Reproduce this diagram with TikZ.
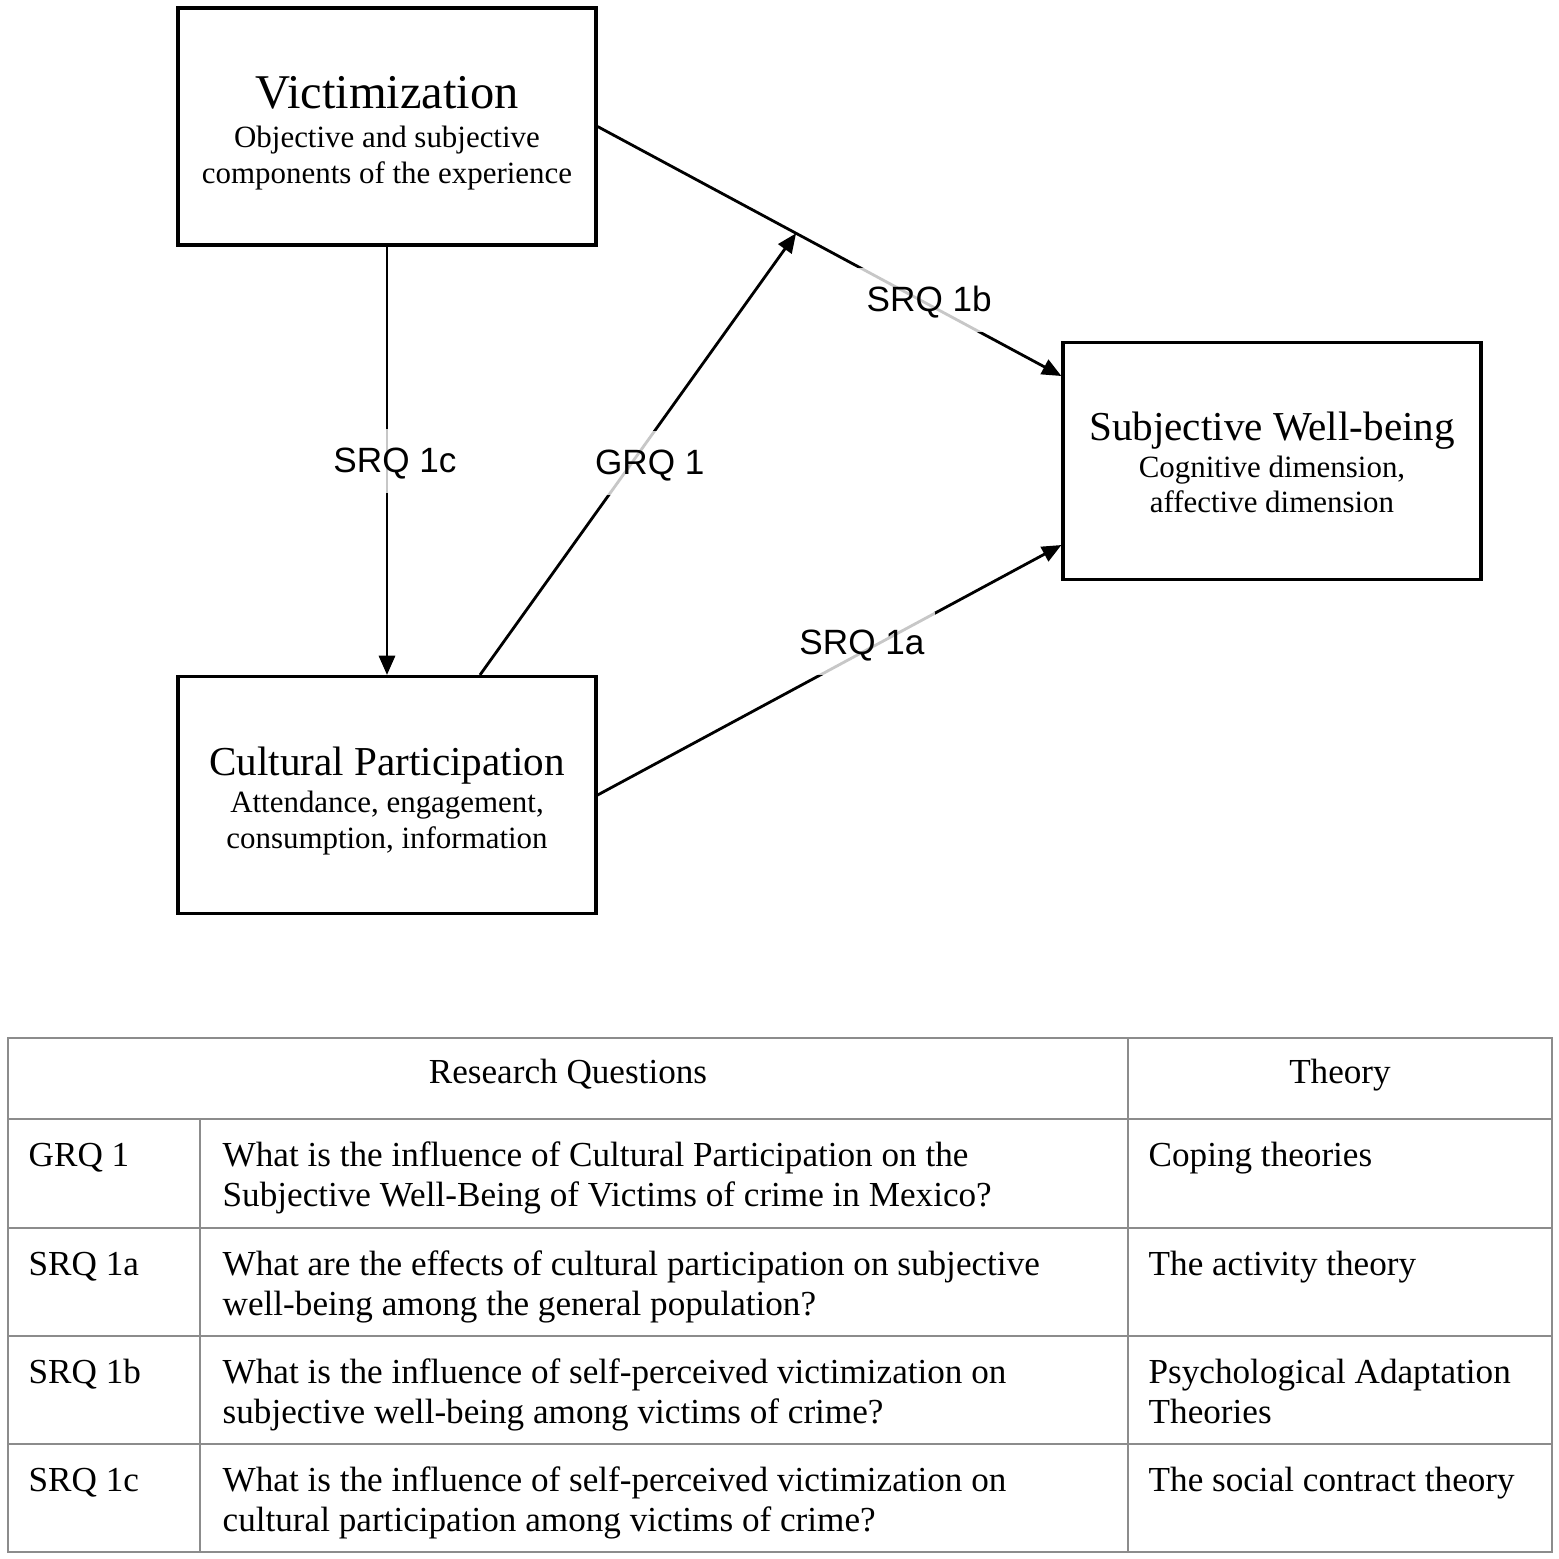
\documentclass[tikz,border=0pt]{standalone}
\usepackage{fontspec}
\setmainfont{Liberation Serif}
\setsansfont{Liberation Sans}
\usetikzlibrary{arrows.meta}

\begin{document}
\begin{tikzpicture}[x=0.1mm, y=-0.1mm,
  block/.style={draw, line width=0.9pt, minimum width=41.8mm, minimum height=23.7mm,
    align=center, inner sep=0pt, font=\fontsize{8.8}{10.2}\selectfont},
  arr/.style={line width=0.8pt, -{Triangle[length=5.5pt,width=4.6pt]}},
  rq/.style={font=\sffamily\fontsize{10}{12}\selectfont, fill=white, fill opacity=0.78,
    text opacity=1, text height=8pt, text depth=1.5pt, inner xsep=3pt, inner ysep=4.35pt},
  grid/.style={draw=black!45, line width=0.6pt},
  head/.style={anchor=base, font=\fontsize{10}{12}\selectfont},
  cell/.style={anchor=north west, inner sep=0pt, align=left, font=\fontsize{10}{11.4}\selectfont}]
\useasboundingbox (0,0) rectangle (1559,1559);

% the three constructs
\node[block] (vic) at (387,126.5) {\rule{0pt}{12.8pt}{\fontsize{13.8}{15}\selectfont Victimization}\\[1pt]
  Objective and subjective\\components of the experience};
\node[block] (swb) at (1272,461) {\rule{0pt}{8.9pt}{\fontsize{11.7}{13}\selectfont Subjective Well-being}\\[0.3pt]
  Cognitive dimension,\\affective dimension};
\node[block] (cul) at (387,795) {\rule{0pt}{11.7pt}{\fontsize{11.7}{13}\selectfont Cultural Participation}\\[0.3pt]
  Attendance, engagement,\\consumption, information};

% research question paths
\draw[arr] (vic.south) -- (cul.north) node[rq, pos=0.5, xshift=0.8mm] {SRQ 1c};
\draw[arr] (vic.east) -- ([yshift=8.5mm]swb.west) coordinate[pos=0.428] (meet)
  node[rq, pos=0.715, yshift=0.5mm] {SRQ 1b};
\draw[arr] ([xshift=9.3mm]cul.north) -- (meet) node[rq, pos=0.48, xshift=1.8mm] {GRQ 1};
\draw[arr] (cul.east) -- ([yshift=-8.4mm]swb.west) node[rq, pos=0.57, yshift=0.9mm] {SRQ 1a};

% table of questions
\draw[grid] (8,1038) rectangle (1552,1552);
\foreach \y in {1119,1228,1336,1444}
  \draw[grid] (8,\y) -- (1552,\y);
\draw[grid] (1128,1038) -- (1128,1552);
\draw[grid] (200,1119) -- (200,1552);

\node[head] (h-rq) at (568,1083) {Research Questions};
\node[head] (h-th) at (1340,1083) {Theory};

\node[cell] (grq) at (28,1138) {\strut GRQ 1};
\node[cell] (grq-q) at (222,1138) {\strut What is the influence of Cultural Participation on the\\
  Subjective Well-Being of Victims of crime in Mexico?};
\node[cell] (grq-t) at (1148,1138) {\strut Coping theories};

\node[cell] (srqa) at (28,1247) {\strut SRQ 1a};
\node[cell] (srqa-q) at (222,1247) {\strut What are the effects of cultural participation on subjective\\
  well-being among the general population?};
\node[cell] (srqa-t) at (1148,1247) {\strut The activity theory};

\node[cell] (srqb) at (28,1355) {\strut SRQ 1b};
\node[cell] (srqb-q) at (222,1355) {\strut What is the influence of self-perceived victimization on\\
  subjective well-being among victims of crime?};
\node[cell] (srqb-t) at (1148,1355) {\strut Psychological Adaptation\\Theories};

\node[cell] (srqc) at (28,1463) {\strut SRQ 1c};
\node[cell] (srqc-q) at (222,1463) {\strut What is the influence of self-perceived victimization on\\
  cultural participation among victims of crime?};
\node[cell] (srqc-t) at (1148,1463) {\strut The social contract theory};
\end{tikzpicture}
\end{document}
